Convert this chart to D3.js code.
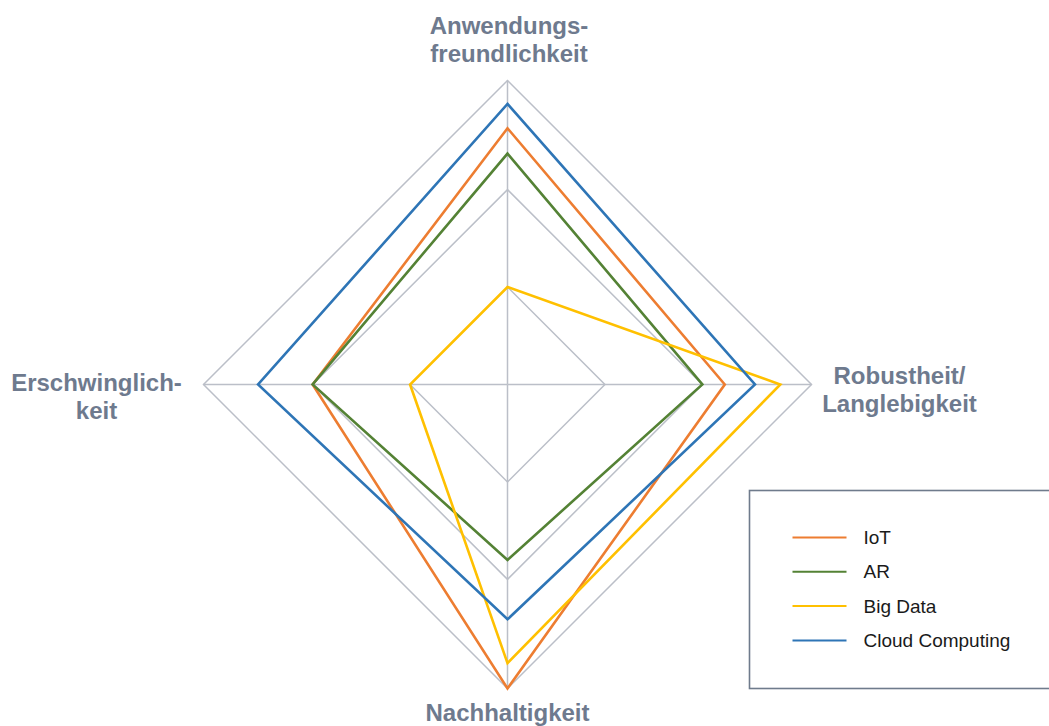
<!DOCTYPE html>
<html>
<head>
<meta charset="utf-8">
<script src="https://cdn.jsdelivr.net/npm/d3@7"></script>
<style>
  html, body { margin: 0; padding: 0; background: #ffffff; }
  svg { display: block; }
  text { font-family: "Liberation Sans", Arial, sans-serif; }
</style>
</head>
<body>
<svg id="chart" width="1049" height="726"></svg>
<script>
// axes, clockwise from the top
const axes = [
  ["Anwendungs-", "freundlichkeit"],
  ["Robustheit/", "Langlebigkeit"],
  ["Nachhaltigkeit"],
  ["Erschwinglich-", "keit"]
];

const seriesNames = ["IoT", "AR", "Big Data", "Cloud Computing"];

// values per axis (top, right, bottom, left)
const iot = [2.63, 2.23, 3.12, 2.0];
const ar = [2.37, 2.0, 1.8, 2.0];
const bigData = [1.0, 2.8, 2.86, 1.0];
const cloud = [2.88, 2.54, 2.41, 2.56];

const gridValues = [1, 2, 3.12];
const maxValue = 3.12;

const colors = ["#ED7D31", "#548235", "#FFC000", "#2E75B6"];

const svg = d3.select("#chart");
const width = 1049;
const cx = 507.5;
const cy = 384.5;
const radius = 304;

const rScale = d3.scaleLinear().domain([0, maxValue]).range([0, radius]);
const angle = d3.scaleLinear().domain([0, axes.length]).range([0, 2 * Math.PI]);

const line = d3
  .lineRadial()
  .angle((_, i) => angle(i))
  .radius(d => rScale(d))
  .curve(d3.curveLinearClosed);

const group = svg.append("g").attr("transform", `translate(${cx},${cy})`);

// grid rings
group
  .selectAll(".ring")
  .data(gridValues)
  .join("path")
  .attr("class", "ring")
  .attr("d", v => line(axes.map(() => v)))
  .attr("fill", "none")
  .attr("stroke", "#bbbfc8")
  .attr("stroke-width", 1.5);

// spokes
group
  .selectAll(".spoke")
  .data(axes)
  .join("line")
  .attr("class", "spoke")
  .attr("x1", 0)
  .attr("y1", 0)
  .attr("x2", (_, i) => rScale(maxValue) * Math.sin(angle(i)))
  .attr("y2", (_, i) => -rScale(maxValue) * Math.cos(angle(i)))
  .attr("stroke", "#bbbfc8")
  .attr("stroke-width", 1.5);

// series
const allSeries = [iot, ar, bigData, cloud];
group
  .selectAll(".series")
  .data(allSeries)
  .join("path")
  .attr("class", "series")
  .attr("d", d => line(d))
  .attr("fill", "none")
  .attr("stroke", (_, i) => colors[i])
  .attr("stroke-width", 2.6)
  .attr("stroke-linejoin", "miter");

// axis labels: [dx, dy of first baseline] relative to the axis end
const labelOffsets = [
  [1.5, -47],
  [88, -1],
  [0, 32],
  [-107, 6.5]
];

axes.forEach((lines, i) => {
  const x = rScale(maxValue) * Math.sin(angle(i)) + labelOffsets[i][0];
  const y = -rScale(maxValue) * Math.cos(angle(i)) + labelOffsets[i][1];
  const t = group
    .append("text")
    .attr("x", x)
    .attr("y", y)
    .attr("text-anchor", "middle")
    .attr("font-size", 24)
    .attr("font-weight", "bold")
    .attr("fill", "#6e7a8e");
  lines.forEach((s, j) => {
    t.append("tspan")
      .attr("x", x)
      .attr("dy", j === 0 ? 0 : 28)
      .text(s);
  });
});

// legend
const legend = svg.append("g").attr("transform", "translate(749.5,490.5)");
legend
  .append("rect")
  .attr("width", width - 749.5 + 5)
  .attr("height", 198)
  .attr("fill", "#ffffff")
  .attr("stroke", "#6f7b8c")
  .attr("stroke-width", 1.6);

const legendY = d3.scaleLinear().domain([0, 1]).range([47, 81.3]);
const items = legend
  .selectAll(".item")
  .data(seriesNames)
  .join("g")
  .attr("class", "item")
  .attr("transform", (_, i) => `translate(0,${legendY(i)})`);

items
  .append("line")
  .attr("x1", 43)
  .attr("x2", 97)
  .attr("stroke", (_, i) => colors[i])
  .attr("stroke-width", 2);

items
  .append("text")
  .attr("x", 114)
  .attr("y", 6.5)
  .attr("font-size", 19)
  .attr("fill", "#1a1a1a")
  .text(d => d);
</script>
</body>
</html>
